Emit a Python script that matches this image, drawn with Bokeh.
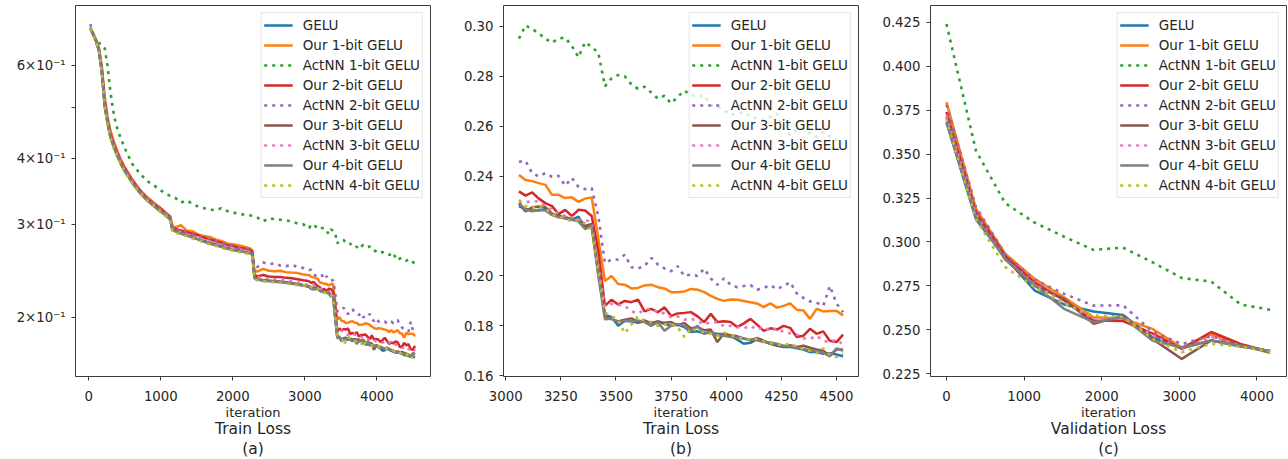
from bokeh.plotting import figure
from bokeh.layouts import row
from bokeh.models import Range1d, FixedTicker, PrintfTickFormatter, Title
from bokeh.embed import file_html
from bokeh.resources import INLINE

# ---------------- data ----------------
series_names = ["GELU", "Our 1-bit GELU", "ActNN 1-bit GELU", "Our 2-bit GELU",
                "ActNN 2-bit GELU", "Our 3-bit GELU", "ActNN 3-bit GELU",
                "Our 4-bit GELU", "ActNN 4-bit GELU"]

# training loss, early part (iterations 20 .. 3030), panel (a)
train_iter_early = [20, 60, 100, 140, 180, 220, 260, 300, 350, 400,
                    450, 500, 600, 700, 800, 900, 1000, 1080, 1130, 1160,
                    1200, 1280, 1360, 1440, 1520, 1600, 1680, 1760, 1840, 1920,
                    2000, 2080, 2160, 2240, 2270, 2300, 2340, 2420, 2500, 2580,
                    2660, 2740, 2820, 2900, 2980, 3030]

early_gelu = [0.708, 0.688, 0.668, 0.642, 0.585, 0.505, 0.468, 0.440, 0.420, 0.404,
              0.390, 0.379, 0.361, 0.346, 0.335, 0.326, 0.318, 0.311, 0.307, 0.294,
              0.292, 0.289, 0.286, 0.284, 0.281, 0.279, 0.276, 0.274, 0.272, 0.270,
              0.269, 0.268, 0.266, 0.265, 0.264, 0.238, 0.236, 0.235, 0.2345, 0.234,
              0.2335, 0.233, 0.232, 0.231, 0.230, 0.229]
early_our1 = [0.706, 0.688, 0.670, 0.648, 0.600, 0.525, 0.480, 0.452, 0.430, 0.412,
              0.397, 0.385, 0.366, 0.350, 0.339, 0.330, 0.322, 0.315, 0.311, 0.298,
              0.296, 0.299, 0.292, 0.291, 0.287, 0.285, 0.284, 0.281, 0.279, 0.276,
              0.275, 0.274, 0.272, 0.270, 0.268, 0.246, 0.244, 0.247, 0.245, 0.2445,
              0.245, 0.2435, 0.243, 0.2425, 0.241, 0.2405]
early_actnn1 = [0.705, 0.690, 0.672, 0.662, 0.658, 0.648, 0.600, 0.535, 0.482, 0.453,
                0.435, 0.418, 0.391, 0.376, 0.363, 0.356, 0.348, 0.342, 0.340, 0.339,
                0.337, 0.330, 0.333, 0.328, 0.324, 0.322, 0.320, 0.319, 0.322, 0.318,
                0.316, 0.314, 0.313, 0.312, 0.311, 0.310, 0.309, 0.304, 0.308, 0.307,
                0.306, 0.305, 0.304, 0.301, 0.300, 0.296]
early_our2 = [0.707, 0.687, 0.669, 0.645, 0.592, 0.515, 0.474, 0.446, 0.425, 0.408,
              0.394, 0.383, 0.364, 0.349, 0.337, 0.328, 0.321, 0.314, 0.309, 0.296,
              0.294, 0.292, 0.290, 0.288, 0.286, 0.283, 0.281, 0.279, 0.277, 0.274,
              0.273, 0.271, 0.270, 0.268, 0.266, 0.241, 0.239, 0.2405, 0.239, 0.2385,
              0.2385, 0.2375, 0.237, 0.236, 0.235, 0.2345]
early_actnn2 = [0.719, 0.692, 0.670, 0.644, 0.590, 0.512, 0.472, 0.444, 0.424, 0.407,
                0.393, 0.382, 0.363, 0.348, 0.336, 0.328, 0.320, 0.314, 0.310, 0.296,
                0.294, 0.291, 0.289, 0.287, 0.285, 0.283, 0.281, 0.279, 0.277, 0.274,
                0.273, 0.271, 0.270, 0.268, 0.266, 0.250, 0.249, 0.254, 0.252, 0.253,
                0.2505, 0.250, 0.2515, 0.249, 0.248, 0.247]
early_our3 = [0.707, 0.688, 0.668, 0.641, 0.585, 0.506, 0.468, 0.440, 0.420, 0.404,
              0.390, 0.379, 0.361, 0.346, 0.335, 0.326, 0.318, 0.312, 0.307, 0.294,
              0.292, 0.289, 0.286, 0.284, 0.281, 0.279, 0.277, 0.275, 0.273, 0.271,
              0.269, 0.268, 0.266, 0.265, 0.264, 0.238, 0.236, 0.235, 0.2345, 0.234,
              0.2335, 0.233, 0.232, 0.231, 0.230, 0.2295]
early_actnn3 = [0.709, 0.688, 0.668, 0.643, 0.587, 0.508, 0.470, 0.442, 0.422, 0.405,
                0.392, 0.380, 0.362, 0.347, 0.336, 0.327, 0.319, 0.313, 0.308, 0.295,
                0.293, 0.290, 0.287, 0.285, 0.282, 0.280, 0.278, 0.276, 0.274, 0.272,
                0.270, 0.269, 0.268, 0.266, 0.265, 0.239, 0.238, 0.2375, 0.237, 0.236,
                0.2355, 0.235, 0.234, 0.233, 0.2315, 0.2305]
early_our4 = [0.706, 0.687, 0.667, 0.640, 0.583, 0.503, 0.466, 0.439, 0.419, 0.403,
              0.389, 0.378, 0.360, 0.345, 0.334, 0.325, 0.317, 0.311, 0.306, 0.293,
              0.291, 0.288, 0.286, 0.283, 0.281, 0.278, 0.276, 0.274, 0.272, 0.270,
              0.268, 0.267, 0.266, 0.264, 0.263, 0.237, 0.236, 0.2345, 0.234, 0.2335,
              0.233, 0.2325, 0.2315, 0.2305, 0.2295, 0.2290]
early_actnn4 = [0.705, 0.686, 0.666, 0.638, 0.580, 0.500, 0.464, 0.437, 0.417, 0.401,
                0.388, 0.377, 0.359, 0.344, 0.333, 0.325, 0.316, 0.310, 0.305, 0.290,
                0.289, 0.287, 0.285, 0.282, 0.280, 0.277, 0.275, 0.273, 0.271, 0.269,
                0.268, 0.266, 0.265, 0.263, 0.262, 0.236, 0.235, 0.234, 0.2335, 0.233,
                0.2325, 0.2315, 0.231, 0.230, 0.2295, 0.2300]

# training loss, late part (iterations 3060 .. 4530), panels (a) and (b)
train_iter_late = [3060, 3090, 3120, 3150, 3180, 3210, 3240, 3270, 3300, 3330,
                   3360, 3390, 3420, 3450, 3480, 3510, 3540, 3570, 3600, 3630,
                   3660, 3690, 3720, 3750, 3780, 3810, 3840, 3870, 3900, 3930,
                   3960, 3990, 4020, 4050, 4080, 4110, 4140, 4170, 4200, 4230,
                   4260, 4290, 4320, 4350, 4380, 4410, 4440, 4470, 4500, 4530]

late_gelu = [0.2280, 0.2268, 0.2262, 0.2262, 0.2268, 0.2245, 0.2238, 0.2232, 0.2225, 0.2238,
             0.2195, 0.2205, 0.2010, 0.1845, 0.1835, 0.1800, 0.1820, 0.1818, 0.1812, 0.1818,
             0.1812, 0.1818, 0.1808, 0.1800, 0.1805, 0.1795, 0.1775, 0.1778, 0.1770, 0.1775,
             0.1768, 0.1765, 0.1760, 0.1745, 0.1728, 0.1732, 0.1748, 0.1740, 0.1728, 0.1720,
             0.1715, 0.1715, 0.1710, 0.1705, 0.1695, 0.1695, 0.1688, 0.1690, 0.1685, 0.1678]
late_our1 = [0.2405, 0.2385, 0.2380, 0.2372, 0.2365, 0.2325, 0.2325, 0.2312, 0.2315, 0.2297,
             0.2310, 0.2315, 0.2150, 0.1980, 0.2000, 0.1968, 0.1965, 0.1950, 0.1952, 0.1962,
             0.1965, 0.1955, 0.1950, 0.1935, 0.1935, 0.1938, 0.1948, 0.1945, 0.1935, 0.1920,
             0.1908, 0.1900, 0.1906, 0.1905, 0.1900, 0.1895, 0.1890, 0.1875, 0.1890, 0.1873,
             0.1880, 0.1890, 0.1865, 0.1862, 0.1828, 0.1868, 0.1858, 0.1860, 0.1860, 0.1842]
late_actnn1 = [0.2951, 0.3004, 0.2990, 0.2972, 0.2951, 0.2935, 0.2952, 0.2955, 0.2922, 0.2877,
               0.2937, 0.2918, 0.2895, 0.2760, 0.2792, 0.2805, 0.2800, 0.2768, 0.2750, 0.2758,
               0.2735, 0.2711, 0.2722, 0.2692, 0.2718, 0.2743, 0.2725, 0.2718, 0.2724, 0.2685,
               0.2678, 0.2665, 0.2645, 0.2651, 0.2658, 0.2638, 0.2631, 0.2625, 0.2638, 0.2651,
               0.2590, 0.2565, 0.2585, 0.2592, 0.2572, 0.2558, 0.2578, 0.2558, 0.2545, 0.2530]
late_our2 = [0.2339, 0.2322, 0.2335, 0.2310, 0.2292, 0.2280, 0.2248, 0.2265, 0.2240, 0.2265,
             0.2262, 0.2240, 0.2100, 0.1880, 0.1905, 0.1886, 0.1900, 0.1895, 0.1905, 0.1858,
             0.1868, 0.1855, 0.1875, 0.1840, 0.1850, 0.1852, 0.1855, 0.1838, 0.1815, 0.1848,
             0.1815, 0.1818, 0.1815, 0.1795, 0.1810, 0.1828, 0.1805, 0.1780, 0.1790, 0.1785,
             0.1800, 0.1792, 0.1755, 0.1760, 0.1788, 0.1768, 0.1778, 0.1740, 0.1735, 0.1765]
late_actnn2 = [0.2458, 0.2461, 0.2412, 0.2399, 0.2412, 0.2397, 0.2401, 0.2362, 0.2393, 0.2357,
               0.2348, 0.2352, 0.2239, 0.2052, 0.2066, 0.2066, 0.2085, 0.2035, 0.2030, 0.2040,
               0.2072, 0.2046, 0.2030, 0.2019, 0.2039, 0.2000, 0.2006, 0.2000, 0.2029, 0.1990,
               0.1965, 0.1990, 0.1965, 0.1955, 0.1960, 0.1963, 0.1945, 0.1952, 0.1963, 0.1947,
               0.1960, 0.1975, 0.1930, 0.1912, 0.1898, 0.1893, 0.1880, 0.1960, 0.1890, 0.1855]
late_our3 = [0.2290, 0.2259, 0.2275, 0.2278, 0.2276, 0.2250, 0.2240, 0.2235, 0.2228, 0.2222,
             0.2200, 0.2208, 0.2020, 0.1840, 0.1828, 0.1818, 0.1825, 0.1830, 0.1815, 0.1822,
             0.1810, 0.1818, 0.1812, 0.1815, 0.1802, 0.1812, 0.1790, 0.1795, 0.1782, 0.1785,
             0.1735, 0.1770, 0.1762, 0.1758, 0.1750, 0.1742, 0.1752, 0.1740, 0.1728, 0.1725,
             0.1718, 0.1722, 0.1715, 0.1720, 0.1712, 0.1705, 0.1700, 0.1680, 0.1705, 0.1705]
late_actnn3 = [0.2290, 0.2295, 0.2300, 0.2298, 0.2280, 0.2265, 0.2250, 0.2240, 0.2235, 0.2225,
               0.2225, 0.2215, 0.2040, 0.1880, 0.1888, 0.1885, 0.1880, 0.1858, 0.1850, 0.1865,
               0.1870, 0.1855, 0.1850, 0.1835, 0.1838, 0.1825, 0.1828, 0.1820, 0.1805, 0.1815,
               0.1815, 0.1798, 0.1800, 0.1795, 0.1790, 0.1800, 0.1785, 0.1795, 0.1780, 0.1790,
               0.1775, 0.1770, 0.1765, 0.1750, 0.1748, 0.1760, 0.1740, 0.1735, 0.1745, 0.1725]
late_our4 = [0.2292, 0.2265, 0.2259, 0.2265, 0.2262, 0.2245, 0.2235, 0.2230, 0.2225, 0.2219,
             0.2188, 0.2199, 0.2000, 0.1826, 0.1828, 0.1815, 0.1820, 0.1818, 0.1822, 0.1815,
             0.1800, 0.1815, 0.1780, 0.1800, 0.1808, 0.1800, 0.1780, 0.1800, 0.1768, 0.1775,
             0.1762, 0.1760, 0.1755, 0.1752, 0.1748, 0.1745, 0.1742, 0.1735, 0.1733, 0.1728,
             0.1720, 0.1718, 0.1712, 0.1706, 0.1702, 0.1698, 0.1693, 0.1678, 0.1710, 0.1700]
late_actnn4 = [0.2305, 0.2280, 0.2272, 0.2282, 0.2270, 0.2245, 0.2240, 0.2228, 0.2220, 0.2225,
               0.2210, 0.2185, 0.2020, 0.1853, 0.1838, 0.1825, 0.1770, 0.1805, 0.1838, 0.1820,
               0.1815, 0.1800, 0.1805, 0.1808, 0.1795, 0.1755, 0.1790, 0.1780, 0.1775, 0.1768,
               0.1760, 0.1772, 0.1765, 0.1752, 0.1750, 0.1745, 0.1748, 0.1738, 0.1730, 0.1725,
               0.1722, 0.1730, 0.1715, 0.1708, 0.1700, 0.1690, 0.1710, 0.1685, 0.1675, 0.1690]

# validation loss, panel (c)
val_iter = [0, 379, 758, 1137, 1516, 1895, 2274, 2653, 3032, 3411, 3790, 4169]
val_gelu = [0.368, 0.313, 0.291, 0.2724, 0.2645, 0.2605, 0.2585, 0.2458, 0.2395, 0.2440, 0.2405, 0.2380]
val_our1 = [0.3795, 0.319, 0.2932, 0.2790, 0.2686, 0.2572, 0.2565, 0.2506, 0.2400, 0.2474, 0.2415, 0.2378]
val_actnn1 = [0.424, 0.352, 0.322, 0.311, 0.303, 0.2955, 0.2968, 0.2885, 0.2795, 0.2775, 0.2645, 0.2615]
val_our2 = [0.374, 0.317, 0.292, 0.2770, 0.2667, 0.2553, 0.2550, 0.2480, 0.2392, 0.2488, 0.2420, 0.2375]
val_actnn2 = [0.378, 0.320, 0.293, 0.2785, 0.2705, 0.2638, 0.2640, 0.2490, 0.2420, 0.2465, 0.2410, 0.2380]
val_our3 = [0.371, 0.315, 0.290, 0.2750, 0.2676, 0.2535, 0.2580, 0.2449, 0.2335, 0.2440, 0.2415, 0.2370]
val_actnn3 = [0.372, 0.316, 0.290, 0.2760, 0.2655, 0.2563, 0.2570, 0.2470, 0.2390, 0.2460, 0.2410, 0.2380]
val_our4 = [0.368, 0.314, 0.2904, 0.2752, 0.2620, 0.2544, 0.2572, 0.2440, 0.2400, 0.2440, 0.2408, 0.2380]
val_actnn4 = [0.370, 0.313, 0.2857, 0.2743, 0.2648, 0.2582, 0.2575, 0.2450, 0.2373, 0.2421, 0.2405, 0.2375]

early_all = [early_gelu, early_our1, early_actnn1, early_our2, early_actnn2,
             early_our3, early_actnn3, early_our4, early_actnn4]
late_all = [late_gelu, late_our1, late_actnn1, late_our2, late_actnn2,
            late_our3, late_actnn3, late_our4, late_actnn4]
val_all = [val_gelu, val_our1, val_actnn1, val_our2, val_actnn2,
           val_our3, val_actnn3, val_our4, val_actnn4]

log_ticks = [0.2, 0.3, 0.4, 0.5, 0.6]
log_tick_labels = ["2\u00d710\u207b\u00b9", "3\u00d710\u207b\u00b9", "4\u00d710\u207b\u00b9", "",
                   "6\u00d710\u207b\u00b9"]
b_yticks = [0.16, 0.18, 0.20, 0.22, 0.24, 0.26, 0.28, 0.30]
c_yticks = [0.225, 0.250, 0.275, 0.300, 0.325, 0.350, 0.375, 0.400, 0.425]

# ---------------- style ----------------
colors = ["#1f77b4", "#ff7f0e", "#2ca02c", "#d62728", "#9467bd",
          "#8c564b", "#e377c2", "#7f7f7f", "#bcbd22"]
dotted = [False, False, True, False, True, False, True, False, True]
FONT = "DejaVu Sans"
TXT = "#262626"
H = 459


def below_title(p, text, size, standoff):
    t = Title(text=text, align="center", text_font=FONT, text_font_size=size,
              text_font_style="normal", text_color=TXT, standoff=standoff)
    p.add_layout(t, "below")


def make_fig(width, left, right, xr, yr, ytype, xticks, title1, title2):
    p = figure(width=width, height=H, x_range=Range1d(*xr), y_range=Range1d(*yr),
               y_axis_type=ytype, output_backend="svg", toolbar_location=None,
               min_border_left=left, min_border_right=right, min_border_top=5,
               min_border_bottom=83, background_fill_color="white",
               border_fill_color="white")
    p.outline_line_color = "#3a3a3a"
    p.outline_line_width = 1
    p.grid.visible = False
    for ax in (p.xaxis[0], p.yaxis[0]):
        ax.axis_line_color = None
        ax.major_tick_out = 4
        ax.major_tick_in = 0
        ax.minor_tick_out = 0
        ax.minor_tick_in = 0
        ax.major_tick_line_color = "#3a3a3a"
        ax.major_label_text_font = FONT
        ax.major_label_text_font_size = "13.3px"
        ax.major_label_text_color = TXT
        ax.major_label_standoff = 6
    p.xaxis.ticker = FixedTicker(ticks=xticks, minor_ticks=[])
    p.xaxis.major_label_standoff = 10
    below_title(p, "iteration", "13px", -2)
    below_title(p, title1, "15.5px", -1)
    below_title(p, title2, "15.5px", 0)
    return p


def style_legend(p):
    lg = p.legend[0]
    lg.location = "top_right"
    lg.margin = 7
    lg.padding = 2
    lg.spacing = 0
    lg.label_height = 20
    lg.glyph_height = 20
    lg.glyph_width = 29
    lg.label_standoff = 10
    lg.label_text_font = FONT
    lg.label_text_font_size = "13.5px"
    lg.label_text_color = TXT
    lg.border_line_color = "#cccccc"
    lg.border_line_width = 1
    lg.background_fill_alpha = 0.8


def draw(p, xs, ys_list):
    for name, ys, c, d in zip(series_names, ys_list, colors, dotted):
        if d:
            p.line(xs, ys, line_color=c, line_width=2.6, line_dash="3 5",
                   legend_label=name)
        else:
            p.line(xs, ys, line_color=c, line_width=2.5, legend_label=name)


# panel (a)
pa = make_fig(431, 75, 1, (-185, 4745), (0.1544, 0.78), "log",
              [0, 1000, 2000, 3000, 4000], "Train Loss", "(a)")
pa.yaxis.ticker = FixedTicker(ticks=log_ticks, minor_ticks=[])
pa.yaxis.major_label_overrides = {t: lab for t, lab in zip(log_ticks, log_tick_labels)}
draw(pa, train_iter_early + train_iter_late,
     [e + l for e, l in zip(early_all, late_all)])
style_legend(pa)

# panel (b)
pb = make_fig(428, 72, 1, (2990, 4600), (0.1597, 0.3084), "linear",
              [3000, 3250, 3500, 3750, 4000, 4250, 4500], "Train Loss", "(b)")
pb.yaxis.ticker = FixedTicker(ticks=b_yticks, minor_ticks=[])
pb.yaxis.formatter = PrintfTickFormatter(format="%.2f")
draw(pb, train_iter_late, late_all)
style_legend(pb)

# panel (c)
pc = make_fig(428, 71, 1, (-206, 4381), (0.2235, 0.4345), "linear",
              [0, 1000, 2000, 3000, 4000], "Validation Loss", "(c)")
pc.yaxis.ticker = FixedTicker(ticks=c_yticks, minor_ticks=[])
pc.yaxis.formatter = PrintfTickFormatter(format="%.3f")
draw(pc, val_iter, val_all)
style_legend(pc)

layout = row(pa, pb, pc)
open("out.html", "w").write(file_html(layout, INLINE))
